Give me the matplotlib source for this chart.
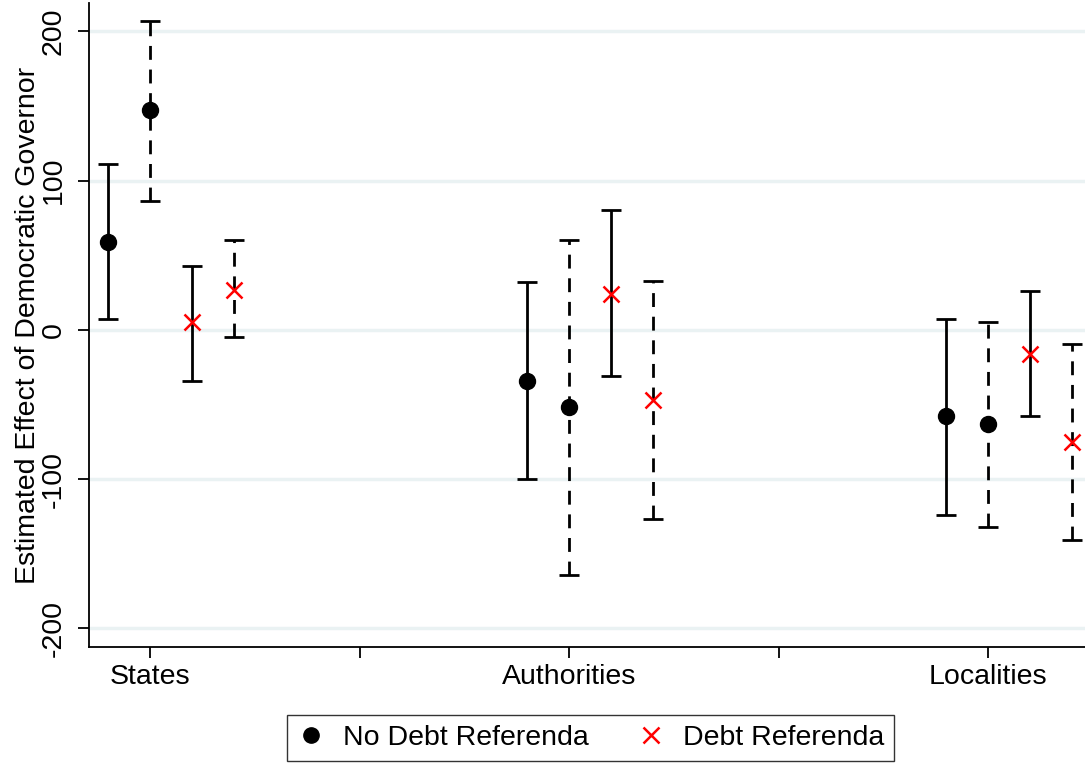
import matplotlib as mpl

mpl.use('agg')
import matplotlib.pyplot as plt
from matplotlib.lines import Line2D

plt.rcParams['font.family'] = ['Liberation Sans', 'DejaVu Sans']
plt.rcParams['axes.unicode_minus'] = False

categories = ['States', 'Authorities', 'Localities']

# point estimates and 95% interval bounds, one list per specification
no_debt_est = [59, -34, -58]
no_debt_lo = [7, -100, -124]
no_debt_hi = [111, 32, 7.5]

no_debt_alt_est = [147, -52, -63]
no_debt_alt_lo = [86, -164, -132]
no_debt_alt_hi = [207, 60, 5.5]

debt_est = [5, 24, -16]
debt_lo = [-34, -31, -58]
debt_hi = [43, 80, 26]

debt_alt_est = [27, -47, -75]
debt_alt_lo = [-5, -127, -140.5]
debt_alt_hi = [60, 32.5, -9.5]

offsets = [-0.1, 0.0, 0.1, 0.2]
GRID = '#eaf2f3'


def draw(ax, pos, est, lo, hi, marker, color, ms, mew, dashed):
  yerr = [[e - l for e, l in zip(est, lo)], [h - e for e, h in zip(est, hi)]]
  eb = ax.errorbar(
    pos, est, yerr=yerr, fmt='none', ecolor='black', elinewidth=2, capsize=7, capthick=2, zorder=2
  )
  if dashed:
    eb[2][0].set_linestyle((0, (5, 3.5)))
  ax.plot(pos, est, linestyle='none', marker=marker, color=color, ms=ms, mew=mew, zorder=3)


def main():
  fig = plt.figure(figsize=(10.85, 7.65), dpi=100)
  ax = fig.add_axes([89 / 1085, 1 - 647 / 765, 1 - 89 / 1085, 644 / 765])

  xs = list(range(1, len(categories) + 1))
  series = [
    (no_debt_est, no_debt_lo, no_debt_hi, 'o', 'black', 11.5, 1, False),
    (no_debt_alt_est, no_debt_alt_lo, no_debt_alt_hi, 'o', 'black', 11.5, 1, True),
    (debt_est, debt_lo, debt_hi, 'x', 'red', 11, 1.8, False),
    (debt_alt_est, debt_alt_lo, debt_alt_hi, 'x', 'red', 11, 1.8, True),
  ]
  for off, (est, lo, hi, marker, color, ms, mew, dashed) in zip(offsets, series):
    pos = [x + off for x in xs]
    draw(ax, pos, est, lo, hi, marker, color, ms, mew, dashed)

  ax.set_xlim(0.854, 3.231)
  ax.set_ylim(-212.5, 219)
  ax.set_yticks([-200, -100, 0, 100, 200])
  for y in [-200, -100, 0, 100, 200]:
    ax.axhline(y, color=GRID, lw=2.5, zorder=0)
  ax.set_xticks(xs)
  ax.set_xticklabels(categories)
  ax.set_xticks([1.5, 2.5], minor=True)
  ax.tick_params(axis='both', which='both', length=8, width=1.3, labelsize=20.5, color='black')
  ax.tick_params(axis='x', which='major', pad=4)
  ax.tick_params(axis='y', pad=8)
  plt.setp(ax.get_yticklabels(), rotation=90, va='center')
  ax.set_ylabel('Estimated Effect of Democratic Governor', fontsize=20.5, labelpad=0)

  for side in ['top', 'right']:
    ax.spines[side].set_visible(False)
  for side in ['left', 'bottom']:
    ax.spines[side].set_linewidth(1.3)

  handles = [
    Line2D([], [], linestyle='none', marker='o', color='black', ms=11),
    Line2D([], [], linestyle='none', marker='x', color='red', ms=11, mew=1.8),
  ]
  leg = fig.legend(
    handles,
    ['No Debt Referenda', 'Debt Referenda'],
    loc='center',
    bbox_to_anchor=(590.5 / 1085, 1 - 738 / 765),
    ncol=2,
    fontsize=20.5,
    frameon=True,
    fancybox=False,
    handlelength=1.0,
    handletextpad=0.6,
    columnspacing=1.7,
    borderpad=0.35,
  )
  leg.get_frame().set_edgecolor('black')
  leg.get_frame().set_linewidth(1.0)

  fig.savefig('out.png', dpi=100)
  plt.close(fig)


if __name__ == '__main__':
  main()
